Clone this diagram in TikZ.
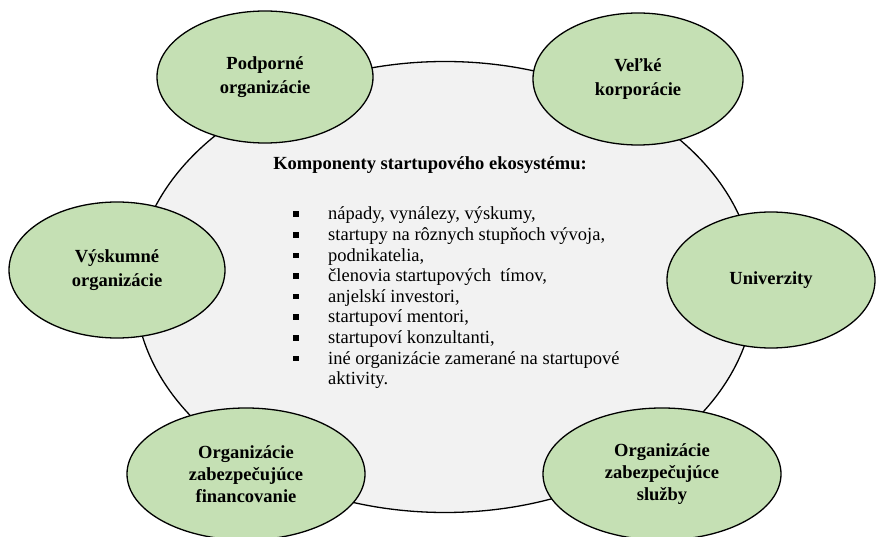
\documentclass[tikz,border=0pt]{standalone}
\usepackage{fontspec}
\setmainfont{Liberation Serif}
\usetikzlibrary{shapes.geometric}
\definecolor{leaf}{RGB}{197,224,180}
\definecolor{core}{RGB}{242,242,242}
\tikzset{
  outer/.style={ellipse, draw=black, line width=1.3pt, fill=leaf, inner sep=0pt,
    align=center, font=\fontsize{18.5}{24.5}\selectfont\bfseries},
  outerthree/.style={outer, font=\fontsize{18.5}{22}\selectfont\bfseries},
  hub/.style={ellipse, draw=black, line width=1.3pt, fill=core, inner sep=0pt},
}
\newcommand{\sqbul}{\rule[3pt]{5.5pt}{5.5pt}}
\begin{document}
\begin{tikzpicture}[x=1pt,y=-1pt]
\useasboundingbox (0,0) rectangle (876,537);
\node[hub, minimum width=620pt, minimum height=451pt] (hub) at (445,287) {};
\node[outer, minimum width=216pt, minimum height=132pt] (podp) at (265,77) {Podporné\\organizácie};
\node[outer, minimum width=210pt, minimum height=132pt] (velke) at (638,79) {Veľké\\korporácie};
\node[outer, minimum width=216pt, minimum height=136pt] (vysk) at (117,270) {Výskumné\\organizácie};
\node[outer, minimum width=208pt, minimum height=136pt] (univ) at (771,280) {Univerzity};
\node[outerthree, minimum width=238pt, minimum height=132pt] (fin) at (246,474) {Organizácie\\zabezpečujúce\\financovanie};
\node[outerthree, minimum width=238pt, minimum height=132pt] (sluz) at (662,474) {Organizácie\\zabezpečujúce\\služby};
\node[anchor=base, font=\fontsize{18.5}{20}\selectfont\bfseries] (head) at (430,170) {Komponenty startupového ekosystému:};
\node[anchor=base west, inner sep=0pt, font=\fontsize{18.5}{20.6}\selectfont] (list) at (293,220) {%
\begin{tabular}[t]{@{}p{35pt}@{}l@{}}
\sqbul & nápady, vynálezy, výskumy,\\
\sqbul & startupy na rôznych stupňoch vývoja,\\
\sqbul & podnikatelia,\\
\sqbul & členovia startupových\ \ tímov,\\
\sqbul & anjelskí investori,\\
\sqbul & startupoví mentori,\\
\sqbul & startupoví konzultanti,\\
\sqbul & iné organizácie zamerané na startupové\\
 & aktivity.
\end{tabular}};
\end{tikzpicture}
\end{document}
